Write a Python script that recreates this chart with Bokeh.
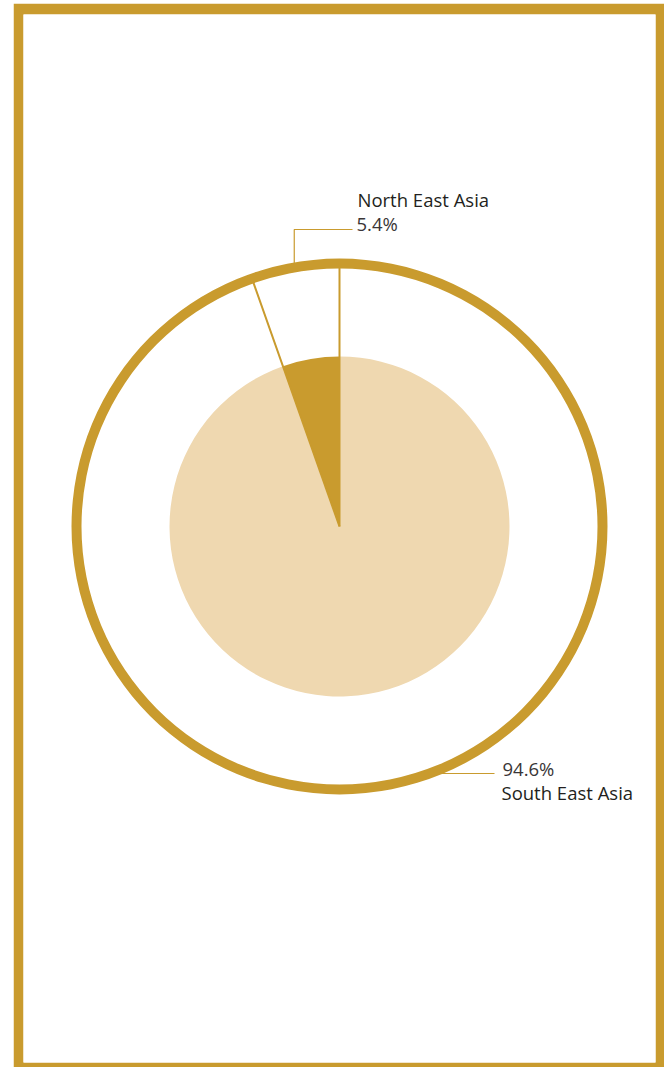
import math
from bokeh.plotting import figure
from bokeh.models import Range1d
from bokeh.core.properties import value
from bokeh.embed import file_html
from bokeh.resources import INLINE

# data
regions = ["North East Asia", "South East Asia"]
shares = [5.4, 94.6]
share_labels = ["5.4%", "94.6%"]

GOLD = "#C99B2E"
LIGHT = "#EFD8B0"
TEXT = "#231F20"
FONT = "Open Sans"

# plot area in pixels (1 data unit = 1 px)
IW, IH = 632, 1048
p = figure(width=651, height=1064, output_backend="svg", toolbar_location=None,
           x_range=Range1d(0, IW), y_range=Range1d(0, IH),
           min_border_left=10, min_border_top=11, min_border_right=9, min_border_bottom=5,
           border_fill_color=GOLD, background_fill_color="white",
           outline_line_color=None, margin=(3, 0, 0, 13))
p.axis.visible = False
p.grid.visible = False

cx, cy = 316, 536
R_PIE = 170
R_IN, R_OUT = 258, 268

# pie wedges (start at top, counterclockwise)
total = sum(shares)
starts, ends, mids = [], [], []
acc = 0.0
for s in shares:
    a0 = math.pi / 2 + 2 * math.pi * acc / total
    acc += s
    a1 = math.pi / 2 + 2 * math.pi * acc / total
    starts.append(a0); ends.append(a1); mids.append((a0 + a1) / 2)

p.wedge(x=[cx] * 2, y=[cy] * 2, radius=R_PIE, start_angle=starts, end_angle=ends,
        fill_color=[GOLD, LIGHT], line_color=None)

# outer ring
p.annulus(x=[cx], y=[cy], inner_radius=R_IN, outer_radius=R_OUT,
          fill_color=GOLD, line_color=None)

# radial separators
bx = [cx + (R_IN + 2) * math.cos(a) for a in starts]
by = [cy + (R_IN + 2) * math.sin(a) for a in starts]
p.segment(x0=[cx] * 2, y0=[cy] * 2, x1=bx, y1=by, line_color=GOLD, line_width=2)

# leader NE (vertical then horizontal)
m = mids[0]
lx = cx + R_OUT * math.cos(m)
ly = cy + R_OUT * math.sin(m)
top_y = 833
p.line(x=[lx, lx, 329], y=[ly - 2, top_y, top_y], line_color=GOLD, line_width=1.2)
p.text(x=[334], y=[863], text=[regions[0]], text_font=value(FONT),
       text_font_size="18.5px", text_color=TEXT, text_baseline="middle", text_align="left")
p.text(x=[333], y=[839], text=[share_labels[0]], text_font=value(FONT),
       text_font_size="18.5px", text_color="#3a3637", text_baseline="middle", text_align="left")

# leader SE (horizontal)
sy = 289
sx = cx + math.sqrt(R_OUT ** 2 - (cy - sy) ** 2)
p.line(x=[sx - 2, 471], y=[sy, sy], line_color=GOLD, line_width=1.2)
p.text(x=[479], y=[294], text=[share_labels[1]], text_font=value(FONT),
       text_font_size="18.5px", text_color="#3a3637", text_baseline="middle", text_align="left")
p.text(x=[478], y=[270], text=[regions[1]], text_font=value(FONT),
       text_font_size="18.5px", text_color=TEXT, text_baseline="middle", text_align="left")

open("out.html", "w").write(file_html(p, INLINE))
